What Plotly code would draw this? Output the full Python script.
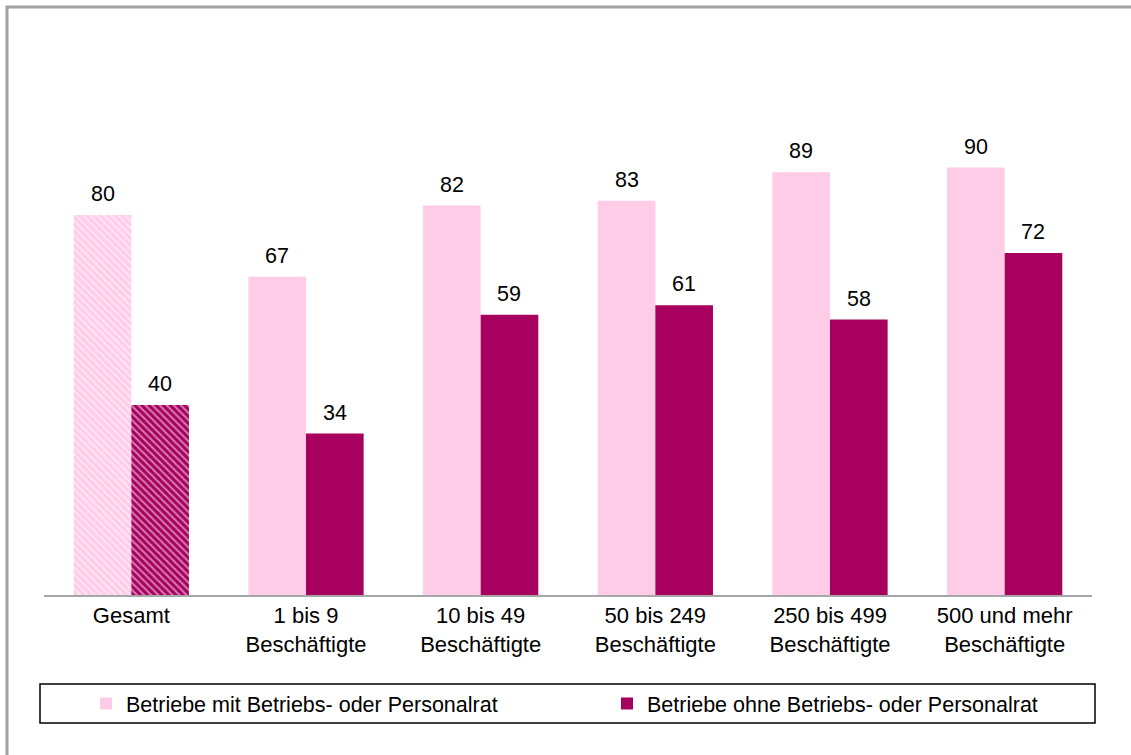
import plotly.graph_objects as go

categories = ["Gesamt", "1 bis 9<br>Beschäftigte", "10 bis 49<br>Beschäftigte",
              "50 bis 249<br>Beschäftigte", "250 bis 499<br>Beschäftigte",
              "500 und mehr<br>Beschäftigte"]
mit_rat = [80, 67, 82, 83, 89, 90]
ohne_rat = [40, 34, 59, 61, 58, 72]
series_names = ["Betriebe mit Betriebs- oder Personalrat",
                "Betriebe ohne Betriebs- oder Personalrat"]

PINK = "#FFCCE8"
MAGENTA = "#A8005F"
FONT = "Liberation Sans, Arial, sans-serif"

W, H = 1131, 755
L, R, T, B = 44, 39, 120, 160
PW = W - L - R
PH = H - T - B


def px_x(p):
    return (p - L) / PW


def px_y(p):
    return (H - B - p) / PH


fig = go.Figure()

for vals, color, name, grp, leg in [(mit_rat, PINK, series_names[0], "a", "legend"),
                                     (ohne_rat, MAGENTA, series_names[1], "b", "legend2")]:
    # Gesamt bar (hatched)
    fig.add_trace(go.Bar(
        x=categories[:1], y=vals[:1], name=name, offsetgroup=grp,
        showlegend=False, legend=leg,
        marker=dict(color=color, line=dict(width=0),
                    pattern=dict(shape="\\", fgcolor="white", size=5,
                                 solidity=0.4, fillmode="overlay")),
        hoverinfo="skip",
    ))
    # remaining bars (solid)
    fig.add_trace(go.Bar(
        x=categories[1:], y=vals[1:], name=name, offsetgroup=grp, legend=leg,
        marker=dict(color=color, line=dict(width=0)),
    ))

half = 0.66 * (PW / len(categories)) / 4
for cat, v1, v2 in zip(categories, mit_rat, ohne_rat):
    for v, sh in [(v1, -half), (v2, half)]:
        fig.add_annotation(x=cat, y=v, text=str(v), showarrow=False,
                           xshift=sh, yanchor="bottom", yshift=7,
                           font=dict(size=21.5, color="black", family=FONT))

# outer grey frame
fig.add_shape(type="rect", xref="paper", yref="paper",
              x0=px_x(7), x1=px_x(1140), y0=px_y(770), y1=px_y(7),
              line=dict(color="#A0A0A0", width=3), layer="below")
# legend box
fig.add_shape(type="rect", xref="paper", yref="paper",
              x0=px_x(40), x1=px_x(1095), y0=px_y(723), y1=px_y(684),
              line=dict(color="black", width=1.5), layer="below")

legend_common = dict(orientation="h", xanchor="left",
                     y=px_y(703.5), yanchor="middle",
                     font=dict(size=21.5, family=FONT, color="black"),
                     bgcolor="rgba(0,0,0,0)")

fig.update_layout(
    width=W, height=H,
    margin=dict(l=L, r=R, t=T, b=B, pad=0),
    paper_bgcolor="white", plot_bgcolor="white",
    barmode="group", bargap=0.34, bargroupgap=0,
    font=dict(family=FONT, size=22, color="black"),
    showlegend=True,
    legend=dict(x=px_x(86), **legend_common),
    legend2=dict(x=px_x(607), **legend_common),
    xaxis=dict(showline=True, linecolor="#A6A6A6", linewidth=1.5,
               showgrid=False, ticks="", tickfont=dict(size=22, family=FONT),
               fixedrange=True),
    yaxis=dict(range=[0, 100], visible=False, showgrid=False, fixedrange=True),
)

fig.write_html("out.html",
               config={"displayModeBar": False},
               post_script="document.body.style.margin='0';"
                           "document.body.style.overflow='hidden';")
